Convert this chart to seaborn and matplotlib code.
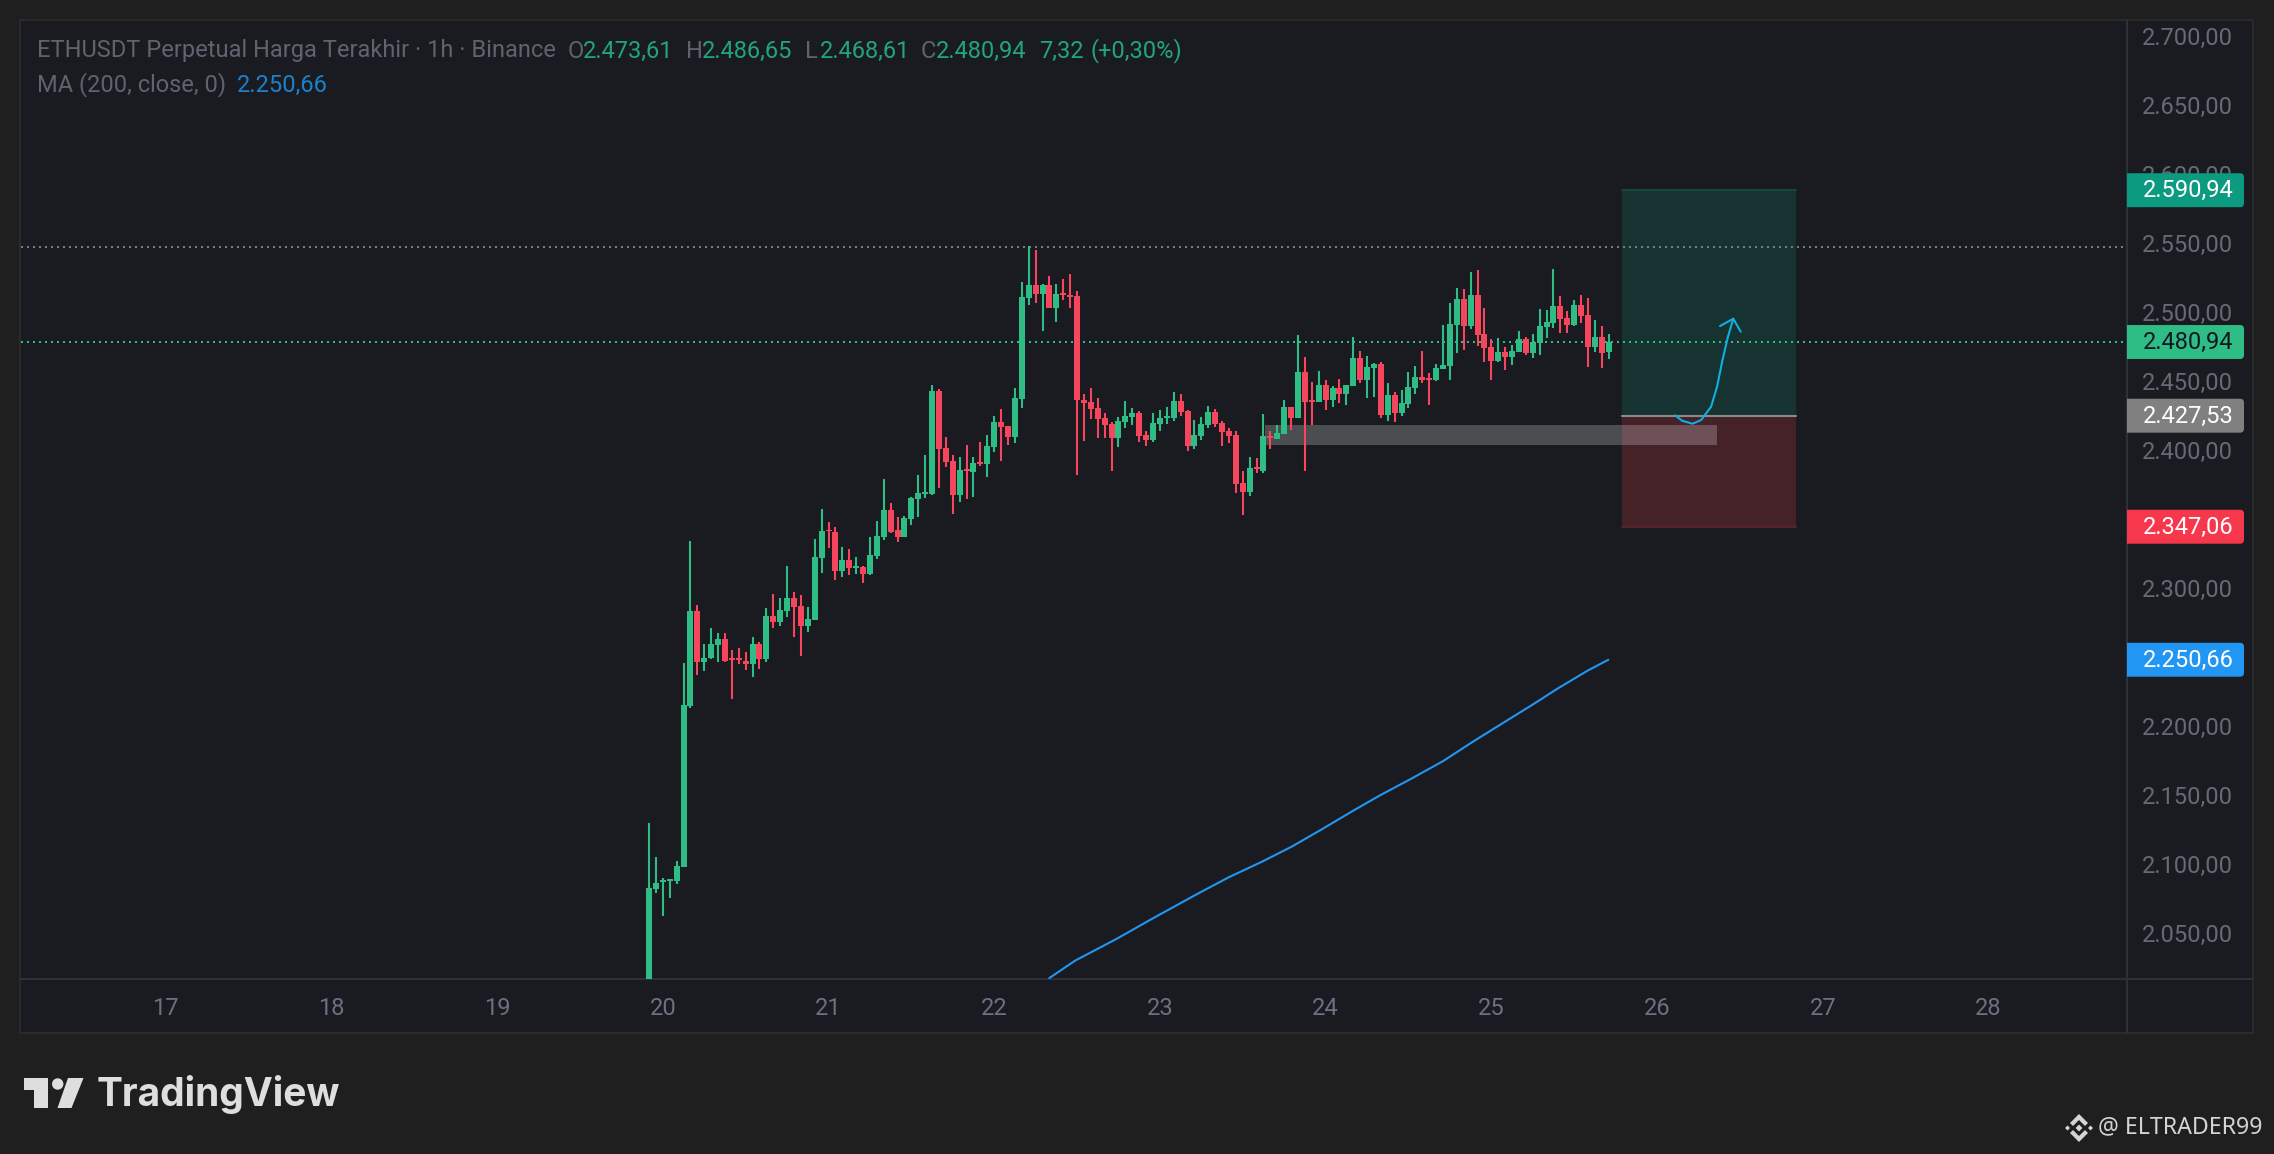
import matplotlib
matplotlib.use("Agg")
import matplotlib.pyplot as plt
import seaborn as sns
from matplotlib.patches import Circle, FancyBboxPatch, Polygon, Rectangle
from matplotlib.transforms import ScaledTranslation

W, H = 2274, 1154
BG_OUT = "#1f1f1f"
BG_PANEL = "#191b20"
BORDER = "#2a2a2c"
AXIS_LINE = "#2c303b"
TICK = "#666a76"
GREEN = "#2ebd85"
RED = "#f6465d"
BLUE = "#2196f3"

# hourly candles, first one is day 19 22:00 (hours counted from day 17 00:00)
first_hour = 70
opens = [
    2010, 2084.5, 2089.5, 2090.2, 2090.2, 2100.3, 2217.1, 2286.0, 2248.9, 2251.8,
    2261.5, 2265.8, 2252.1, 2252.1, 2249.6, 2247.4, 2262.2, 2251.0, 2282.4, 2278.1,
    2286.0, 2295.4, 2289.6, 2275.2, 2279.5, 2324.6, 2344.8, 2343.3, 2314.8, 2323.1,
    2317.3, 2317.7, 2312.7, 2326.0, 2339.3, 2359.2, 2344.8, 2339.7, 2352.7, 2367.1,
    2370.7, 2370.7, 2445.3, 2404.2, 2394.9, 2370.0, 2388.7, 2386.6, 2394.2, 2392.3,
    2405.0, 2423.0, 2420.1, 2412.2, 2439.6, 2512.8, 2522.1, 2515.6, 2522.1, 2505.5,
    2516.3, 2514.9, 2514.2, 2439.2, 2437.4, 2433.1, 2425.9, 2421.5, 2411.4, 2423.0,
    2426.6, 2429.5, 2413.6, 2410.0, 2421.5, 2425.9, 2425.9, 2438.2, 2431.0, 2405.6,
    2412.8, 2420.8, 2430.2, 2422.2, 2416.5, 2413.6, 2378.8, 2372.2, 2390.4, 2387.5,
    2412.8, 2410.7, 2414.3, 2433.8, 2425.9, 2459.2, 2438.9, 2437.5, 2449.8, 2438.9,
    2447.6, 2443.3, 2449.1, 2469.4, 2453.4, 2462.1, 2465.0, 2428.0, 2442.5, 2429.5,
    2436.0, 2447.6, 2455.6, 2454.8, 2453.4, 2461.4, 2463.6, 2493.3, 2512.1, 2492.5,
    2515.0, 2486.7, 2477.3, 2467.2, 2473.7, 2470.1, 2473.7, 2483.1, 2473.0, 2480.2,
    2491.8, 2494.7, 2507.0, 2498.3, 2493.3, 2507.8, 2500.5, 2477.3, 2484.6, 2473.61,
]
highs = [
    2132.4, 2107.5, 2092.4, 2092.0, 2104.7, 2248.1, 2336.8, 2290.3, 2262.2, 2273.7,
    2270.1, 2270.1, 2257.9, 2259.3, 2256.4, 2267.2, 2263.6, 2288.2, 2298.2, 2295.4,
    2318.4, 2299.7, 2297.5, 2288.9, 2338.3, 2359.9, 2350.5, 2346.9, 2332.5, 2331.1,
    2325.3, 2318.4, 2339.7, 2351.2, 2381.5, 2364.2, 2354.1, 2354.8, 2368.6, 2384.4,
    2399.2, 2449.7, 2446.8, 2412.2, 2399.2, 2397.8, 2406.4, 2397.8, 2408.6, 2413.6,
    2427.3, 2432.4, 2420.1, 2447.5, 2524.3, 2550.3, 2547.7, 2522.8, 2528.6, 2522.8,
    2526.4, 2530.0, 2517.8, 2443.2, 2447.5, 2440.3, 2429.5, 2423.0, 2426.6, 2438.2,
    2433.1, 2431.0, 2416.5, 2429.5, 2431.7, 2433.8, 2444.7, 2443.3, 2431.7, 2424.4,
    2426.6, 2434.6, 2432.4, 2423.7, 2418.6, 2416.5, 2387.5, 2397.6, 2396.9, 2428.8,
    2416.5, 2420.8, 2438.9, 2433.8, 2486.0, 2470.1, 2452.0, 2459.9, 2453.4, 2449.1,
    2454.1, 2449.8, 2484.6, 2474.4, 2470.8, 2465.7, 2466.4, 2451.2, 2444.7, 2446.2,
    2459.2, 2463.6, 2474.4, 2458.5, 2465.0, 2493.3, 2509.2, 2520.1, 2519.3, 2531.7,
    2533.1, 2505.6, 2483.1, 2483.8, 2477.3, 2478.8, 2488.9, 2484.6, 2486.7, 2504.9,
    2504.1, 2533.8, 2514.3, 2503.4, 2511.4, 2515.0, 2512.8, 2496.9, 2492.5, 2486.65,
]
lows = [
    2005, 2081.6, 2065.0, 2078.0, 2088.1, 2100.3, 2215.7, 2239.5, 2242.4, 2251.0,
    2248.9, 2248.9, 2222.2, 2247.4, 2243.1, 2238.0, 2243.8, 2248.9, 2273.7, 2275.2,
    2281.7, 2267.2, 2253.6, 2270.8, 2279.5, 2313.4, 2331.8, 2308.4, 2310.5, 2312.0,
    2312.7, 2306.2, 2312.0, 2323.9, 2337.5, 2342.6, 2336.1, 2339.7, 2348.4, 2354.1,
    2367.8, 2370.0, 2375.0, 2390.2, 2356.3, 2365.0, 2367.1, 2368.6, 2390.9, 2383.0,
    2401.4, 2394.9, 2406.4, 2407.9, 2433.1, 2507.7, 2509.2, 2489.0, 2505.5, 2495.4,
    2511.3, 2505.5, 2384.4, 2409.3, 2425.2, 2411.5, 2411.4, 2387.5, 2404.9, 2418.6,
    2420.8, 2408.5, 2405.6, 2408.5, 2416.5, 2421.5, 2423.7, 2427.3, 2402.0, 2403.4,
    2410.0, 2418.6, 2419.3, 2405.6, 2407.8, 2371.5, 2355.6, 2369.3, 2386.0, 2386.0,
    2403.4, 2410.7, 2414.3, 2417.2, 2425.9, 2387.5, 2420.8, 2437.5, 2431.7, 2433.8,
    2436.7, 2435.3, 2449.1, 2451.2, 2440.4, 2441.1, 2425.9, 2423.7, 2423.0, 2427.3,
    2433.1, 2443.3, 2451.2, 2435.3, 2452.7, 2461.4, 2453.4, 2473.0, 2475.2, 2490.4,
    2478.0, 2466.4, 2453.4, 2466.4, 2460.7, 2464.3, 2473.7, 2471.5, 2469.4, 2471.5,
    2483.8, 2491.1, 2487.5, 2487.5, 2492.5, 2494.7, 2462.8, 2473.7, 2462.1, 2468.61,
]
closes = [
    2085.2, 2088.8, 2091.0, 2091.7, 2101.0, 2217.9, 2286.0, 2248.9, 2252.1, 2262.2,
    2265.8, 2249.9, 2250.3, 2250.3, 2247.8, 2262.2, 2251.0, 2282.4, 2278.1, 2286.7,
    2295.4, 2288.9, 2275.2, 2280.2, 2325.3, 2344.0, 2343.7, 2314.8, 2323.1, 2317.0,
    2318.4, 2312.7, 2326.7, 2340.4, 2359.2, 2343.3, 2339.7, 2353.4, 2367.8, 2371.4,
    2372.2, 2445.3, 2403.5, 2394.2, 2370.0, 2388.0, 2387.3, 2393.4, 2392.3, 2405.7,
    2423.0, 2419.4, 2412.2, 2440.3, 2513.5, 2522.1, 2515.6, 2522.1, 2505.5, 2515.6,
    2515.3, 2513.8, 2439.2, 2436.7, 2432.4, 2425.2, 2420.8, 2411.4, 2423.7, 2427.3,
    2429.5, 2412.8, 2410.0, 2422.2, 2425.9, 2427.3, 2438.2, 2430.2, 2405.6, 2413.6,
    2421.5, 2430.2, 2421.5, 2415.7, 2412.8, 2378.0, 2372.2, 2389.6, 2388.9, 2412.8,
    2411.4, 2415.0, 2433.8, 2425.9, 2459.2, 2437.5, 2437.5, 2449.8, 2438.9, 2447.6,
    2443.3, 2449.8, 2469.4, 2453.4, 2462.8, 2465.0, 2428.0, 2442.5, 2429.5, 2436.7,
    2448.3, 2455.6, 2453.4, 2453.4, 2462.1, 2464.3, 2494.0, 2512.1, 2492.5, 2515.0,
    2486.0, 2476.6, 2467.2, 2473.7, 2470.1, 2474.4, 2483.1, 2473.0, 2480.9, 2492.5,
    2495.4, 2507.0, 2497.6, 2493.3, 2507.8, 2499.8, 2477.3, 2484.6, 2473.0, 2480.94,
]

# 200h moving average
ma_days = [22.332, 22.488, 22.745, 22.946, 23.214, 23.415, 23.616, 23.795, 23.973, 24.174,
           24.331, 24.510, 24.710, 24.889, 25.067, 25.246, 25.403, 25.580, 25.706]
ma_values = [2019.9, 2032.6, 2048.8, 2062.5, 2080.2, 2093.0, 2104.3, 2115.2, 2127.5, 2141.8,
             2152.6, 2164.0, 2177.3, 2191.3, 2204.6, 2217.9, 2230.0, 2242.7, 2250.66]

# drawn arrow
arrow_days = [26.109, 26.151, 26.214, 26.266, 26.326, 26.362, 26.395, 26.428, 26.460]
arrow_prices = [2427.8, 2423.9, 2421.7, 2424.4, 2434.0, 2448.5, 2467.9, 2484.8, 2497.8]
head_days = [26.380, 26.460, 26.505]
head_prices = [2492.5, 2497.8, 2488.4]

# long position tool and zone
target_price = 2590.94
entry_price = 2427.53
stop_price = 2347.06
last_price = 2480.94
ma_last = 2250.66
prior_high = 2549.85
tool_days = [25.789, 26.839]
zone_days = [23.634, 26.362]
zone_prices = [2406.3, 2420.8]

day_ticks = list(range(17, 29))
price_ticks = list(range(2050, 2701, 50))


def fmt(v):
    return f"{v:,.2f}".replace(",", "#").replace(".", ",").replace("#", ".")


sns.set_theme(style="dark", rc={"axes.grid": False})
plt.rcParams["font.family"] = ["Roboto", "DejaVu Sans"]

fig = plt.figure(figsize=(W / 100, H / 100), dpi=100, facecolor=BG_OUT)

# everything around the chart, in pixels
chrome = fig.add_axes([0, 0, 1, 1], zorder=-1)
chrome.set_xlim(0, W)
chrome.set_ylim(H, 0)
chrome.axis("off")
chrome.add_patch(Rectangle((20, 20), 2233, 1013, fc=BG_PANEL, ec=BORDER, lw=1.5))
chrome.plot([21, 2253], [979, 979], color=AXIS_LINE, lw=1.5)
chrome.plot([2127, 2127], [20, 1033], color=AXIS_LINE, lw=1.5)

ax = fig.add_axes([21 / W, (H - 979) / H, (2127 - 21) / W, (979 - 20) / H], zorder=1)
ax.set_facecolor("none")
for s in ax.spines.values():
    s.set_visible(False)

df_days = [17 + (first_hour + i) / 24 for i in range(len(opens))]
colors = [GREEN if c >= o else RED for o, c in zip(opens, closes)]

# position tool and zone go under the candles
ax.add_patch(Rectangle((tool_days[0], entry_price), tool_days[1] - tool_days[0], target_price - entry_price,
                       fc="#173331", ec="none", zorder=1))
ax.add_patch(Rectangle((tool_days[0], stop_price), tool_days[1] - tool_days[0], entry_price - stop_price,
                       fc="#452128", ec="none", zorder=1))
ax.plot(tool_days, [target_price, target_price], color="#1b4a47", lw=1.2, zorder=1.1)
ax.plot(tool_days, [stop_price, stop_price], color="#5c2530", lw=1.2, zorder=1.1)
ax.plot(tool_days, [entry_price, entry_price], color="#8a8a8a", lw=1.5, zorder=1.2)
ax.add_patch(Rectangle((zone_days[0], zone_prices[0]), zone_days[1] - zone_days[0], zone_prices[1] - zone_prices[0],
                       fc="white", alpha=0.22, ec="none", zorder=1.5))

ax.axhline(prior_high, color="#787b86", lw=1.44, ls=(0, (1, 2)), zorder=2)
ax.axhline(last_price, color=GREEN, lw=1.44, ls=(0, (1, 2)), zorder=2)

ax.vlines(df_days, lows, highs, colors=colors, lw=1.5, zorder=3)
ax.bar(df_days, [abs(c - o) for o, c in zip(opens, closes)], bottom=[min(o, c) for o, c in zip(opens, closes)],
       width=6 / 165.7, color=colors, linewidth=0, zorder=3)

sns.lineplot(x=ma_days, y=ma_values, ax=ax, color=BLUE, lw=1.5, zorder=4)
ax.plot(arrow_days, arrow_prices, color="#0fb0e0", lw=1.5, zorder=5)
ax.plot(head_days, head_prices, color="#0fb0e0", lw=1.5, zorder=5)

ax.set_xlim(16.127, 28.836)
ax.set_ylim(2019.3, 2714.3)
ax.set_xticks(day_ticks)
ax.set_xticklabels([str(d) for d in day_ticks])
ax.set_yticks(price_ticks)
ax.set_yticklabels([fmt(p) for p in price_ticks])
ax.yaxis.tick_right()
ax.tick_params(axis="x", length=0, pad=13, labelsize=17, colors="#6b7182")
ax.tick_params(axis="y", length=0, pad=11, labelsize=17, colors=TICK)
# the price scale text sits a little above its level
up = ScaledTranslation(0, 3.5 / 100, fig.dpi_scale_trans)
for lab in ax.get_yticklabels():
    lab.set_transform(lab.get_transform() + up)

# price labels sit on top of the tick labels
labels_ax = fig.add_axes([2127 / W, (H - 979) / H, (2253 - 2127) / W, (979 - 20) / H], zorder=2)
labels_ax.set_facecolor("none")
labels_ax.axis("off")
labels_ax.set_xlim(0, 126)
labels_ax.set_ylim(ax.get_ylim())
label_prices = [target_price, last_price, entry_price, stop_price, ma_last]
label_fills = ["#0c9a80", GREEN, "#808080", "#f7374c", BLUE]
label_texts = ["white", "#131722", "white", "white", "white"]
for p, fill, tc in zip(label_prices, label_fills, label_texts):
    labels_ax.add_patch(FancyBboxPatch((-10, p - 12.3), 127, 24.6, boxstyle="round,pad=0,rounding_size=4",
                                       mutation_aspect=1 / 1.38, fc=fill, ec="none"))
    labels_ax.text(15.5, p + 1.5, fmt(p), color=tc, fontsize=17, va="center_baseline", ha="left")

# legend lines
gray = "#5f636f"
vals = "#22a57c"
row1 = [
    (37, "ETHUSDT Perpetual Harga Terakhir · 1h · Binance", gray),
    (568, "O", gray), (583, "2.473,61", vals),
    (686, "H", gray), (702, "2.486,65", vals),
    (805, "L", gray), (820, "2.468,61", vals),
    (921, "C", gray), (936, "2.480,94", vals),
    (1039, "7,32", vals), (1090, "(+0,30%)", vals),
]
for x, s, c in row1:
    chrome.text(x, 51, s, color=c, fontsize=17, va="center")
chrome.text(37, 85, "MA (200, close, 0)", color=gray, fontsize=17, va="center")
chrome.text(237, 85, "2.250,66", color="#1c80cc", fontsize=17, va="center")

# TradingView logo
logo = "#dddedd"
chrome.add_patch(Polygon([(24, 1078), (48, 1078), (48, 1108), (34, 1108), (34, 1090), (24, 1090)], fc=logo, ec="none"))
chrome.add_patch(Circle((57.7, 1084), 5.7, fc=logo, ec="none"))
chrome.add_patch(Polygon([(68, 1078), (83.5, 1078), (71.5, 1108), (57.5, 1108)], fc=logo, ec="none"))
chrome.text(97, 1095, "TradingView", color=logo, fontsize=28, fontweight="bold", family="Inter", va="center")

# watermark
mark = "#d2d4d6"
cx, cy = 2079, 1128
chrome.add_patch(Polygon([(cx, cy - 14), (cx + 9, cy - 5), (cx + 6, cy - 2), (cx, cy - 8), (cx - 6, cy - 2), (cx - 9, cy - 5)], fc=mark, ec="none"))
chrome.add_patch(Polygon([(cx, cy + 14), (cx + 9, cy + 5), (cx + 6, cy + 2), (cx, cy + 8), (cx - 6, cy + 2), (cx - 9, cy + 5)], fc=mark, ec="none"))
for dx, r in [(0, 3.5), (-11.5, 2.5), (11.5, 2.5)]:
    chrome.add_patch(Polygon([(cx + dx, cy - r), (cx + dx + r, cy), (cx + dx, cy + r), (cx + dx - r, cy)], fc=mark, ec="none"))
chrome.text(2098, 1127, "@ ELTRADER99", color=mark, fontsize=16.7, family="Noto Sans", va="center")

fig.savefig("out.png", dpi=100, facecolor=BG_OUT)
